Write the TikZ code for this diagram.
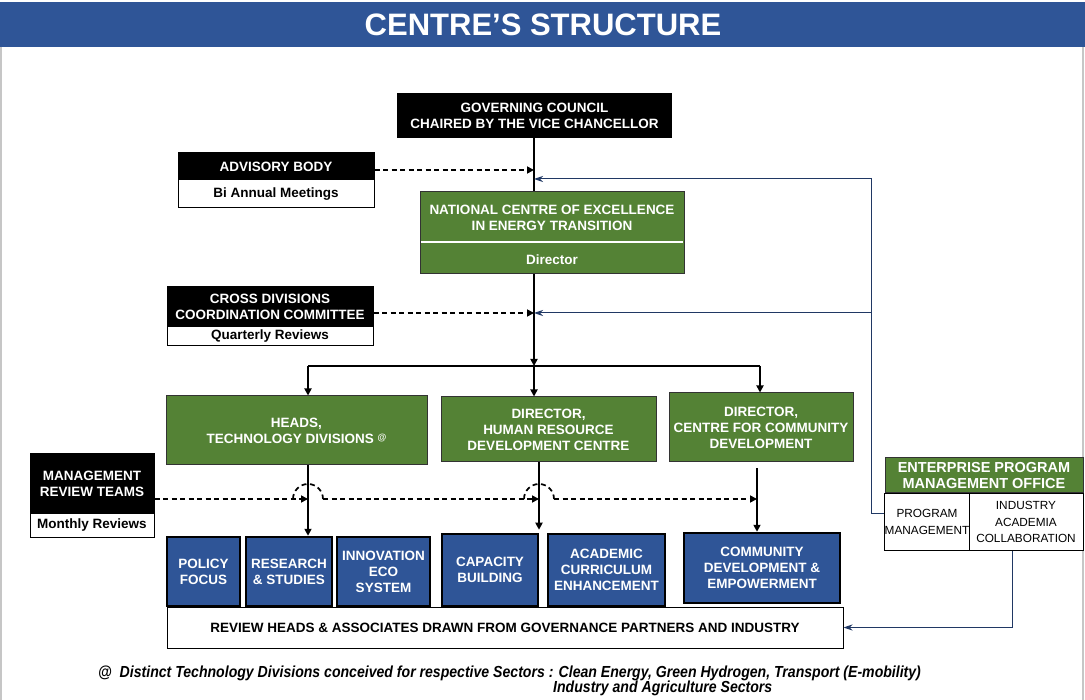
\documentclass[tikz,border=0pt]{standalone}
\usepackage{fontspec}
\setmainfont{Liberation Sans}
\newfontfamily\narrowfont[FakeStretch=0.88]{Liberation Sans}
\usetikzlibrary{arrows.meta,calc}
\definecolor{tbar}{RGB}{47,85,151}
\definecolor{grn}{RGB}{84,130,53}
\definecolor{bluebox}{RGB}{47,85,151}
\definecolor{navy}{RGB}{32,56,100}
\begin{document}
\begin{tikzpicture}[x=1pt,y=-1pt,
  fs/.style={font=\fontsize{13.5}{16}\selectfont\bfseries},
  blk/.style={fs, fill=black, draw=black, line width=1pt, text=white, align=center, inner sep=0pt},
  wht/.style={fs, fill=white, draw=black, line width=1pt, text=black, align=center, inner sep=0pt},
  gbox/.style={fs, fill=grn, draw=black!80, line width=1pt, text=white, align=center, inner sep=0pt},
  gtext/.style={fs, text=white, align=center, inner sep=0pt},
  bbox/.style={fs, fill=bluebox, draw=black, line width=2.5pt, text=white, align=center, inner sep=0pt},
  wreg/.style={font=\fontsize{11.8}{16.5}\selectfont, fill=white, draw=black, line width=1pt, align=center, inner sep=0pt},
  ln/.style={line width=1.7pt, black},
  dsh/.style={line width=1.7pt, black, dash pattern=on 5pt off 3.5pt},
  bl/.style={line width=1pt, navy},
  myarrow/.style={-{Triangle[length=7pt,width=7pt]}},
  barrow/.style={-{Stealth[length=9pt,width=6pt]}},
  fnote/.style={anchor=west, inner sep=0pt, font=\narrowfont\bfseries\itshape\fontsize{16}{16}\selectfont}
]
\useasboundingbox (0,0) rectangle (1085,700);
\fill[white] (0,0) rectangle (1085,700);
\fill[tbar] (0,2) rectangle (1085,47);
\draw[gray!45, line width=1.2pt] (1,47) -- (1,700);
\draw[gray!45, line width=1.2pt] (1083,47) -- (1083,700);
\node[font=\fontsize{31}{31}\selectfont\bfseries, text=white] (title) at (543,25) {CENTRE’S STRUCTURE};

% top part
\node[blk, minimum width=274pt, minimum height=44pt] (gov) at (534.5,116) {GOVERNING COUNCIL\\CHAIRED BY THE VICE CHANCELLOR};
\node[blk, minimum width=196pt, minimum height=27pt] (advh) at (276,166.5) {ADVISORY BODY};
\node[wht, minimum width=196pt, minimum height=28pt] (advb) at (276,194) {Bi Annual Meetings};

\node[gbox, minimum width=264pt, minimum height=82pt] (nce) at (552,233) {};
\node[gtext] (ncet) at (552,218) {NATIONAL CENTRE OF EXCELLENCE\\IN ENERGY TRANSITION};
\draw[white, line width=1.6pt] ($(nce.west)+(1.5,9)$) -- ($(nce.east)+(-1.5,9)$);
\node[gtext] (nced) at (552,260) {Director};

\node[blk, minimum width=206pt, minimum height=40pt] (crsh) at (270,307) {CROSS DIVISIONS\\COORDINATION COMMITTEE};
\node[wht, minimum width=206pt, minimum height=19pt] (crsb) at (270,336.5) {Quarterly Reviews};

% middle green boxes
\node[gbox, minimum width=261pt, minimum height=69pt] (heads) at (296.5,430.5) {HEADS,\\TECHNOLOGY DIVISIONS \raisebox{3pt}{\fontsize{9}{9}\selectfont @}};
\node[gbox, minimum width=215pt, minimum height=65pt] (hr) at (548.5,429.5) {DIRECTOR,\\HUMAN RESOURCE\\DEVELOPMENT CENTRE};
\node[gbox, minimum width=184pt, minimum height=69pt] (com) at (761,427.5) {DIRECTOR,\\CENTRE FOR COMMUNITY\\DEVELOPMENT};

\node[blk, minimum width=124pt, minimum height=60pt] (mrth) at (92,484) {MANAGEMENT\\REVIEW TEAMS};
\node[wht, minimum width=124pt, minimum height=23pt] (mrtb) at (92,525.5) {Monthly Reviews};

% blue boxes
\node[bbox, minimum width=73pt, minimum height=69pt] (pol) at (203.5,571.5) {POLICY\\FOCUS};
\node[bbox, minimum width=86pt, minimum height=69pt] (res) at (289,571.5) {RESEARCH\\\& STUDIES};
\node[bbox, minimum width=93pt, minimum height=69pt] (inn) at (383.5,571.5) {INNOVATION\\ECO\\SYSTEM};
\node[bbox, minimum width=96pt, minimum height=72pt] (cap) at (490,570) {CAPACITY\\BUILDING};
\node[bbox, minimum width=117pt, minimum height=72pt] (aca) at (606.5,570) {ACADEMIC\\CURRICULUM\\ENHANCEMENT};
\node[bbox, minimum width=156pt, minimum height=70pt] (cmd) at (762,568) {COMMUNITY\\DEVELOPMENT \&\\EMPOWERMENT};

\node[wht, minimum width=676pt, minimum height=41pt] (rev) at (505,627.5) {REVIEW HEADS \& ASSOCIATES DRAWN FROM GOVERNANCE PARTNERS AND INDUSTRY};

% EPMO
\node[gbox, minimum width=198pt, minimum height=35pt, font=\fontsize{14.5}{16}\selectfont\bfseries] (epmo) at (984,475.5) {ENTERPRISE PROGRAM\\MANAGEMENT OFFICE};
\node[wreg, minimum width=84pt, minimum height=57pt] (pm) at (927,522) {PROGRAM\\MANAGEMENT};
\node[wreg, minimum width=114pt, minimum height=57pt] (iac) at (1026,522) {INDUSTRY\\ACADEMIA\\COLLABORATION};

% coordinates
\coordinate (t1) at (534,170);
\coordinate (tb) at (534,179);
\coordinate (t2) at (534,313);
\coordinate (j) at (534,366);
\coordinate (bt) at (871,179);
\coordinate (bm) at (871,313);
\coordinate (bb) at (871,514);
\coordinate (d1) at (308,366);
\coordinate (d3) at (760,366);
\coordinate (m1) at (308,499);
\coordinate (m2) at (539,499);
\coordinate (m3) at (757,499);

% connectors
\draw[ln] (gov.south -| j) -- (nce.north -| j);
\draw[ln, myarrow] (nce.south -| j) -- (j);
\draw[ln] (d1) -- (d3);
\draw[ln, myarrow] (d1) -- (heads.north -| d1);
\draw[ln, myarrow] (j) -- (hr.north -| j);
\draw[ln, myarrow] (d3) -- (com.north -| d3);
\draw[dsh, myarrow] (advh.east |- t1) -- (t1);
\draw[dsh, myarrow] (crsh.east |- t2) -- (t2);
\draw[bl, barrow] (pm.west |- bb) -- (bb) -- (bt) -- (tb);
\draw[bl, barrow] (bm) -- (t2);
\draw[bl, barrow] ($(iac.south)+(-14,0)$) |- (rev.east);

\draw[ln, myarrow] (heads.south -| m1) -- (res.north -| m1);
\draw[ln, myarrow] (hr.south -| m2) -- ($(cap.north -| m2)+(0,-3)$);
\draw[ln, myarrow] ($(com.south -| m3)+(0,6)$) -- (cmd.north -| m3);

\draw[dsh, myarrow] (mrth.east |- m1) -- (m1);
\draw[dsh] ($(m1)+(-15,0)$) arc[start angle=180, end angle=360, radius=15];
\draw[dsh, myarrow] ($(m1)+(15,0)$) -- (m2);
\draw[dsh] ($(m2)+(-15,0)$) arc[start angle=180, end angle=360, radius=15];
\draw[dsh, myarrow] ($(m2)+(15,0)$) -- (m3);

% footnote
\node[fnote] (fn1) at (98,673) {@\ \ Distinct Technology Divisions conceived for respective Sectors : Clean Energy, Green Hydrogen, Transport (E-mobility)};
\node[fnote] (fn2) at (553,688) {Industry and Agriculture Sectors};
\end{tikzpicture}
\end{document}
